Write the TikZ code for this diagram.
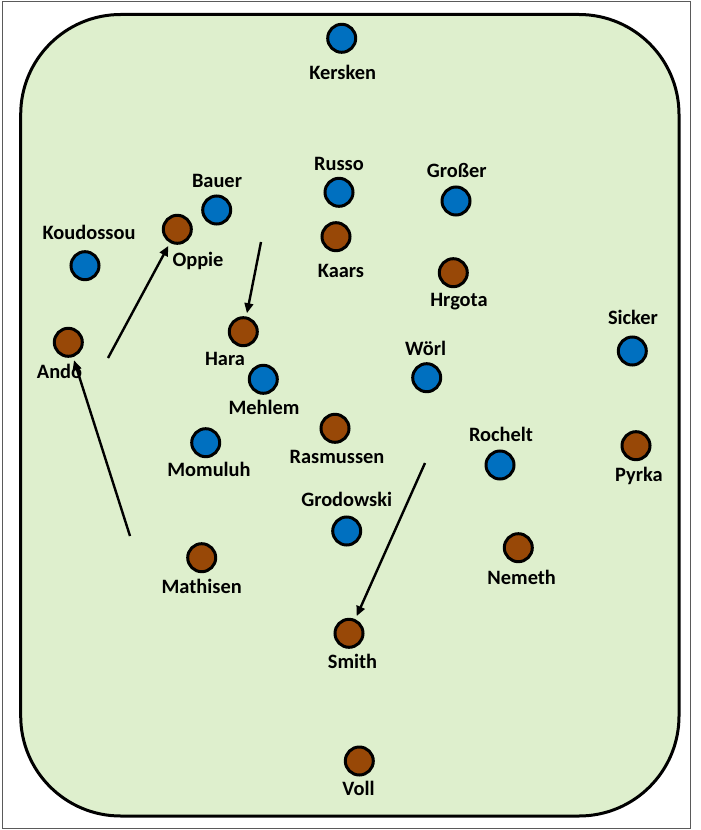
\documentclass[tikz,border=0pt]{standalone}
\usepackage{fontspec}
\setmainfont{Carlito}
\usetikzlibrary{arrows.meta}

\begin{document}
\begin{tikzpicture}[x=0.75pt,y=0.75pt,yscale=-1,xscale=1,
  blueplayer/.style={circle,draw=black,line width=2.25pt,fill={rgb, 255:red, 0; green, 112; blue, 192 },minimum size=21pt,inner sep=0pt},
  brownplayer/.style={circle,draw=black,line width=2.25pt,fill={rgb, 255:red, 152; green, 72; blue, 7 },minimum size=21pt,inner sep=0pt},
  playername/.style={anchor=base,inner sep=0pt,font=\fontsize{15.3}{18}\selectfont\bfseries},
  run/.style={line width=1.8pt,-{Triangle[length=7.5pt,width=6.5pt]},shorten >=2.5pt}]
%set diagram size 700 x 830
\path (0,0) rectangle (700,830);

%Shape: Rectangle (frame)
\draw [color={rgb, 255:red, 90; green, 90; blue, 90 }, line width=0.75pt] (2.3,1.5) rectangle (690.7,828.3);
%Shape: Rounded Rectangle (pitch)
\draw [fill={rgb, 255:red, 222; green, 239; blue, 205 }, line width=2.25pt, rounded corners=75pt] (20.7,14.5) rectangle (679,816);

%Shape: Circle (blue)
\node [blueplayer] (kersken) at (341.7,38.3) {};
\node [blueplayer] (russo) at (339,192.3) {};
\node [blueplayer] (bauer) at (216.7,210) {};
\node [blueplayer] (koudossou) at (85,265.7) {};
\node [blueplayer] (grosser) at (456,201) {};
\node [blueplayer] (mehlem) at (263.3,379.3) {};
\node [blueplayer] (woerl) at (426.7,377.7) {};
\node [blueplayer] (sicker) at (632.3,351) {};
\node [blueplayer] (momuluh) at (205.7,442.7) {};
\node [blueplayer] (rochelt) at (500,465) {};
\node [blueplayer] (grodowski) at (346.7,531) {};
%Shape: Circle (brown)
\node [brownplayer] (oppie) at (177.3,229.3) {};
\node [brownplayer] (kaars) at (336,236.7) {};
\node [brownplayer] (hrgota) at (453.3,272.7) {};
\node [brownplayer] (ando) at (68.3,342.3) {};
\node [brownplayer] (hara) at (243.3,331.7) {};
\node [brownplayer] (rasmussen) at (335,428.3) {};
\node [brownplayer] (pyrka) at (636,445.7) {};
\node [brownplayer] (mathisen) at (201.7,557.7) {};
\node [brownplayer] (nemeth) at (518.3,547.7) {};
\node [brownplayer] (smith) at (349,633.3) {};
\node [brownplayer] (voll) at (359.3,761) {};

%Straight Lines (runs)
\coordinate (runoppie) at (108,358);
\coordinate (runhara) at (261,242);
\coordinate (runando) at (130,536);
\coordinate (runsmith) at (425,463);
\draw [run] (runoppie) -- (oppie);
\draw [run] (runhara) -- (hara);
\draw [run] (runando) -- (ando);
\draw [run] (runsmith) -- (smith);

% Text Node
\node [playername] (kerskenlbl) at (342.7,80) {Kersken};
% Text Node
\node [playername] (russolbl) at (339,171) {Russo};
% Text Node
\node [playername] (bauerlbl) at (217,188) {Bauer};
% Text Node
\node [playername] (koudossoulbl) at (89,240) {Koudossou};
% Text Node
\node [playername] (oppielbl) at (198,267) {Oppie};
% Text Node
\node [playername] (kaarslbl) at (341,277) {Kaars};
% Text Node
\node [playername] (grosserlbl) at (456.7,177.7) {Großer};
% Text Node
\node [playername] (hrgotalbl) at (459,306.7) {Hrgota};
% Text Node
\node [playername] (andolbl) at (59.5,378.3) {Ando};
% Text Node
\node [playername] (haralbl) at (225,365.7) {Hara};
% Text Node
\node [playername] (mehlemlbl) at (264,414.3) {Mehlem};
% Text Node
\node [playername] (woerllbl) at (425.7,355) {Wörl};
% Text Node
\node [playername] (sickerlbl) at (633,324) {Sicker};
% Text Node
\node [playername] (rasmussenlbl) at (337,463.5) {Rasmussen};
% Text Node
\node [playername] (momuluhlbl) at (209,476.7) {Momuluh};
% Text Node
\node [playername] (rocheltlbl) at (501,441.7) {Rochelt};
% Text Node
\node [playername] (pyrkalbl) at (639,481.7) {Pyrka};
% Text Node
\node [playername] (grodowskilbl) at (346.7,506.5) {Grodowski};
% Text Node
\node [playername] (mathisenlbl) at (201.7,593.3) {Mathisen};
% Text Node
\node [playername] (nemethlbl) at (521.7,584.3) {Nemeth};
% Text Node
\node [playername] (smithlbl) at (352.5,668.3) {Smith};
% Text Node
\node [playername] (volllbl) at (358.5,795) {Voll};

\end{tikzpicture}
\end{document}
